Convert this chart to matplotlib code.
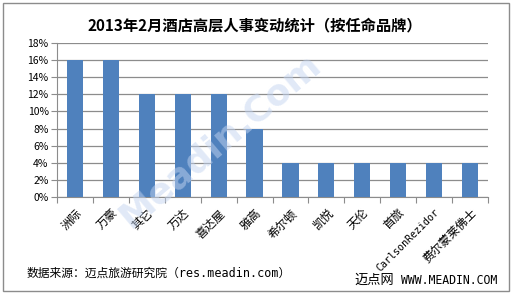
import matplotlib.pyplot as plt
from matplotlib.patches import Rectangle
from matplotlib.ticker import FuncFormatter, MultipleLocator

plt.rcParams['font.family'] = ['Noto Sans CJK SC', 'DejaVu Sans']
mono_cjk = ['DejaVu Sans Mono', 'Noto Sans CJK SC']

brands = ['洲际', '万豪', '其它', '万达', '喜达屋', '雅高', '希尔顿', '凯悦',
          '天伦', '首旅', 'CarlsonRezidor', '费尔蒙莱佛士']
share = [16, 16, 12, 12, 12, 8, 4, 4, 4, 4, 4, 4]

fig = plt.figure(figsize=(5.13, 2.94), dpi=100)
ax = fig.add_axes([57 / 513, 1 - 197 / 294, 431 / 513, 154 / 294])

x = list(range(len(brands)))
ax.bar(x, share, width=0.45, color='#4F81BD', zorder=3)

ax.set_xlim(-0.5, len(brands) - 0.5)
ax.set_ylim(0, 18)
ax.yaxis.set_major_locator(MultipleLocator(2))
ax.yaxis.set_major_formatter(FuncFormatter(lambda v, p: f'{v:.0f}%'))
ax.grid(axis='y', color='#8c8c8c', linewidth=0.9, zorder=0)

# 分类轴刻度放在类别之间
ax.set_xticks([i - 0.5 for i in range(len(brands) + 1)])
ax.set_xticklabels([])
ax.set_xticks(x, minor=True)
labels = ax.set_xticklabels(brands, minor=True, rotation=45, ha='right',
                            rotation_mode='anchor', fontsize=8.5,
                            family=mono_cjk)
for lab in labels:
    if lab.get_text().isascii():
        lab.set_fontsize(7.2)
ax.tick_params(axis='x', which='minor', length=0, pad=7)
ax.tick_params(axis='x', which='major', length=4, color='#8c8c8c')
ax.tick_params(axis='y', length=4, color='#8c8c8c', labelsize=7.5, pad=2)

for s in ['top', 'right']:
    ax.spines[s].set_visible(False)
for s in ['left', 'bottom']:
    ax.spines[s].set_color('#8c8c8c')

fig.text(87 / 513, 1 - 25 / 294, '2013年2月酒店高层人事变动统计（按任命品牌）',
         ha='left', va='center', fontsize=11, fontweight='bold')
fig.text(27 / 513, 1 - 273 / 294, '数据来源：迈点旅游研究院（res.meadin.com）',
         ha='left', va='center', fontsize=8.5, family=mono_cjk)
fig.text(394 / 513, 1 - 280 / 294, '迈点网', ha='right', va='center',
         fontsize=9.5)
fig.text(401 / 513, 1 - 280 / 294, 'WWW.MEADIN.COM', ha='left', va='center',
         fontsize=8.3, family='DejaVu Sans Mono')

# 水印
fig.text(220 / 513, 1 - 140 / 294, 'Meadin.Com', ha='center', va='center',
         rotation=40, fontsize=26, fontweight='bold', color='#c3d4f0',
         alpha=0.5, family='DejaVu Sans', zorder=10)

fig.patches.append(Rectangle((3 / 513, 1 - 291 / 294), 506 / 513, 288 / 294,
                             transform=fig.transFigure, fill=False,
                             edgecolor='#8c8c8c', linewidth=1))

fig.savefig('out.png', dpi=100)
